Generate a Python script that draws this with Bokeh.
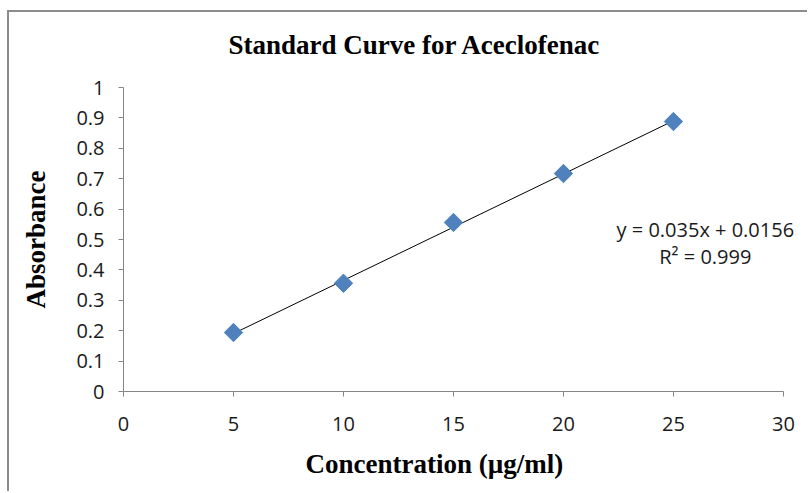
import numpy as np
from bokeh.plotting import figure
from bokeh.models import (Range1d, Label, SingleIntervalTicker, ColumnDataSource, Title,
                          LinearAxis, FixedTicker)
from bokeh.embed import file_html
from bokeh.resources import INLINE

# ---- data ----
concentration = [5, 10, 15, 20, 25]
absorbance = [0.194, 0.356, 0.556, 0.717, 0.888]
slope = 0.035
intercept = 0.0156
trend_x = [5, 25]
eq_text = "y = 0.035x + 0.0156"
r2_text = "R² = 0.999"
title_text = "Standard Curve for Aceclofenac"
x_label = "Concentration  (µg/ml)"
y_label = "Absorbance"
x_axis_end = 30
y_axis_end = 1

trend_y = [slope * x + intercept for x in trend_x]

# plot frame a bit wider than the x axis (axis uses bounds), leaving room for the equation text
p = figure(
    width=800, height=481, title=None,
    output_backend="svg", toolbar_location=None,
    x_range=Range1d(0, 31.14), y_range=Range1d(0, y_axis_end),
    min_border_left=114, min_border_right=1, min_border_top=75, min_border_bottom=102,
    styles={"margin-left": "7px", "margin-top": "10px",
            "border-left": "2px solid #8c8c8c", "border-top": "2px solid #8c8c8c"},
)
p.outline_line_color = None
p.grid.visible = False
p.background_fill_color = "white"
p.border_fill_color = "white"

xax = p.below[0]
yax = p.left[0]

# invisible spacer between frame and title (pushes the title upward)
spacer = LinearAxis(ticker=FixedTicker(ticks=[15]), major_label_overrides={15: ""},
                    axis_line_color=None, major_tick_line_color=None, minor_tick_line_color=None,
                    major_tick_in=0, major_tick_out=26, major_label_standoff=0,
                    major_label_text_font_size="1px")
p.add_layout(spacer, "above")

main_title = Title(text=title_text, align="left", offset=105, text_font="Liberation Serif",
                   text_font_style="bold", text_font_size="27px", text_color="black", standoff=4)
p.add_layout(main_title, "above")

for ax in (xax, yax):
    ax.axis_line_color = "#868686"
    ax.major_tick_line_color = "#868686"
    ax.minor_tick_line_color = None
    ax.major_tick_in = 0
    ax.major_tick_out = 5
    ax.major_label_text_font = "Open Sans"
    ax.major_label_text_font_size = "20px"
    ax.major_label_text_color = "#1a1a1a"
    ax.axis_label_text_font = "Liberation Serif"
    ax.axis_label_text_font_style = "bold"
    ax.axis_label_text_font_size = "27px"
    ax.axis_label_text_color = "black"

xax.ticker = SingleIntervalTicker(interval=5, num_minor_ticks=0)
yax.ticker = SingleIntervalTicker(interval=0.1, num_minor_ticks=0)
xax.bounds = (0, x_axis_end)
yax.axis_label = y_label
xax.major_label_standoff = 20
yax.major_label_standoff = 14
yax.axis_label_standoff = 22

# x-axis title placed below the axis
xt = Title(text=x_label, align="left", offset=182, text_font="Liberation Serif",
           text_font_style="bold", text_font_size="27px", text_color="black", standoff=27)
p.add_layout(xt, "below")

src = ColumnDataSource(dict(x=concentration, y=absorbance))
p.line(trend_x, trend_y, line_color="black", line_width=1)
p.scatter("x", "y", source=src, marker="square", size=13, angle=np.pi / 4,
          fill_color="#4F81BD", line_color="#4F81BD")

p.add_layout(Label(x=26.45, y=0.533, text=eq_text, text_align="center", text_baseline="middle",
                   text_font="Open Sans", text_font_size="20px", text_color="#1a1a1a"))
p.add_layout(Label(x=26.45, y=0.444, text=r2_text, text_align="center", text_baseline="middle",
                   text_font="Open Sans", text_font_size="20px", text_color="#1a1a1a"))

open("out.html", "w").write(file_html(p, INLINE))
